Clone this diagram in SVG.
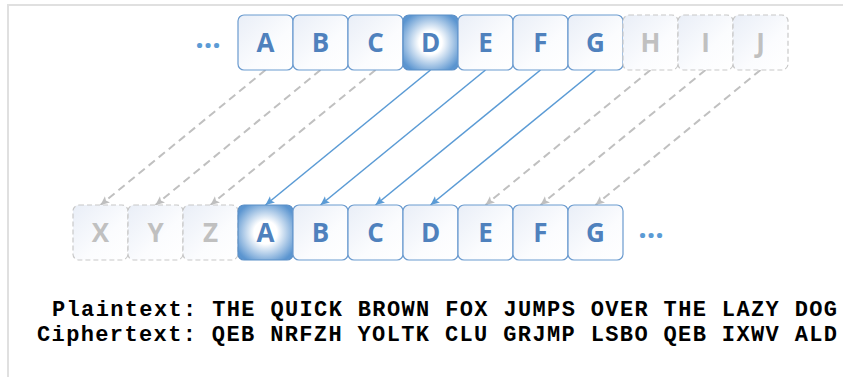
<svg xmlns="http://www.w3.org/2000/svg" width="843" height="377" viewBox="0 0 843 377">
<defs>
<linearGradient id="gBox" x1="0" y1="0" x2="1" y2="1">
<stop offset="0" stop-color="#e9eef7"/>
<stop offset="0.6" stop-color="#fbfcfe"/>
<stop offset="1" stop-color="#ffffff"/>
</linearGradient>
<radialGradient id="gHi" cx="0.5" cy="0.5" r="0.6">
<stop offset="0" stop-color="#ffffff"/>
<stop offset="0.35" stop-color="#ffffff"/>
<stop offset="1" stop-color="#5b95d0"/>
</radialGradient>
<marker id="ab" markerUnits="userSpaceOnUse" markerWidth="10" markerHeight="10" refX="9" refY="4" orient="auto">
<path d="M0,0 L9,4 L0,8 L2,4 z" fill="#5b9bd5"/>
</marker>
<marker id="ag" markerUnits="userSpaceOnUse" markerWidth="10" markerHeight="10" refX="9" refY="4" orient="auto">
<path d="M0,0 L9,4 L0,8 L2,4 z" fill="#bfbfbf"/>
</marker>
</defs>
<style>
.box{fill:url(#gBox);stroke:#6b9bcf;stroke-width:1.2}
.hi{fill:url(#gHi);stroke:#5b8fc7;stroke-width:1.2}
.dim{fill:url(#gBox);stroke:#c8c8c8;stroke-width:1.2;stroke-dasharray:5 3}
.t{font-family:"Open Sans","Liberation Sans",sans-serif;font-weight:bold;font-size:26px;text-anchor:middle;fill:#4f81bd}
.td{font-family:"Open Sans","Liberation Sans",sans-serif;font-weight:bold;font-size:26px;text-anchor:middle;fill:#c0c0c0}
.el{font-family:"Open Sans","Liberation Sans",sans-serif;font-weight:bold;font-size:30px;text-anchor:middle;fill:#5b9bd5}
.sb{stroke:#5b9bd5;stroke-width:1.6;fill:none;marker-end:url(#ab)}
.sg{stroke:#c0c0c0;stroke-width:2;fill:none;stroke-dasharray:8 5;marker-end:url(#ag)}
.mono{font-family:"Liberation Mono","Courier New",monospace;font-weight:bold;font-size:22px;fill:#000}
.frame{stroke:#e0e0e0;stroke-width:2;fill:none}
</style>
<path class="frame" d="M8,377 L8,5 L843,5"/>
<g id="connectors">
<line class="sg" x1="265.5" y1="70" x2="100.5" y2="205"/>
<line class="sg" x1="320.5" y1="70" x2="155.5" y2="205"/>
<line class="sg" x1="375.5" y1="70" x2="210.5" y2="205"/>
<line class="sb" x1="430.5" y1="70" x2="265.5" y2="205"/>
<line class="sb" x1="485.5" y1="70" x2="320.5" y2="205"/>
<line class="sb" x1="540.5" y1="70" x2="375.5" y2="205"/>
<line class="sb" x1="595.5" y1="70" x2="430.5" y2="205"/>
<line class="sg" x1="650.5" y1="70" x2="485.5" y2="205"/>
<line class="sg" x1="705.5" y1="70" x2="540.5" y2="205"/>
<line class="sg" x1="760.5" y1="70" x2="595.5" y2="205"/>
</g>
<g id="top-ellipsis"><text class="el" x="208" y="48">...</text></g>
<g id="top-A"><rect class="box" x="238" y="15" width="55" height="55" rx="6"/><text class="t" x="265.5" y="52">A</text></g>
<g id="top-B"><rect class="box" x="293" y="15" width="55" height="55" rx="6"/><text class="t" x="320.5" y="52">B</text></g>
<g id="top-C"><rect class="box" x="348" y="15" width="55" height="55" rx="6"/><text class="t" x="375.5" y="52">C</text></g>
<g id="top-D"><rect class="hi" x="403" y="15" width="55" height="55" rx="6"/><text class="t" x="430.5" y="52">D</text></g>
<g id="top-E"><rect class="box" x="458" y="15" width="55" height="55" rx="6"/><text class="t" x="485.5" y="52">E</text></g>
<g id="top-F"><rect class="box" x="513" y="15" width="55" height="55" rx="6"/><text class="t" x="540.5" y="52">F</text></g>
<g id="top-G"><rect class="box" x="568" y="15" width="55" height="55" rx="6"/><text class="t" x="595.5" y="52">G</text></g>
<g id="top-H"><rect class="dim" x="623" y="15" width="55" height="55" rx="6"/><text class="td" x="650.5" y="52">H</text></g>
<g id="top-I"><rect class="dim" x="678" y="15" width="55" height="55" rx="6"/><text class="td" x="705.5" y="52">I</text></g>
<g id="top-J"><rect class="dim" x="733" y="15" width="55" height="55" rx="6"/><text class="td" x="760.5" y="52">J</text></g>
<g id="bot-X"><rect class="dim" x="73" y="205" width="55" height="55" rx="6"/><text class="td" x="100.5" y="242">X</text></g>
<g id="bot-Y"><rect class="dim" x="128" y="205" width="55" height="55" rx="6"/><text class="td" x="155.5" y="242">Y</text></g>
<g id="bot-Z"><rect class="dim" x="183" y="205" width="55" height="55" rx="6"/><text class="td" x="210.5" y="242">Z</text></g>
<g id="bot-A"><rect class="hi" x="238" y="205" width="55" height="55" rx="6"/><text class="t" x="265.5" y="242">A</text></g>
<g id="bot-B"><rect class="box" x="293" y="205" width="55" height="55" rx="6"/><text class="t" x="320.5" y="242">B</text></g>
<g id="bot-C"><rect class="box" x="348" y="205" width="55" height="55" rx="6"/><text class="t" x="375.5" y="242">C</text></g>
<g id="bot-D"><rect class="box" x="403" y="205" width="55" height="55" rx="6"/><text class="t" x="430.5" y="242">D</text></g>
<g id="bot-E"><rect class="box" x="458" y="205" width="55" height="55" rx="6"/><text class="t" x="485.5" y="242">E</text></g>
<g id="bot-F"><rect class="box" x="513" y="205" width="55" height="55" rx="6"/><text class="t" x="540.5" y="242">F</text></g>
<g id="bot-G"><rect class="box" x="568" y="205" width="55" height="55" rx="6"/><text class="t" x="595.5" y="242">G</text></g>
<g id="bot-ellipsis"><text class="el" x="651" y="238">...</text></g>
<g id="text">
<text class="mono" x="52" y="316" textLength="785" lengthAdjust="spacing">Plaintext: THE QUICK BROWN FOX JUMPS OVER THE LAZY DOG</text>
<text class="mono" x="37" y="341" textLength="800" lengthAdjust="spacing">Ciphertext: QEB NRFZH YOLTK CLU GRJMP LSBO QEB IXWV ALD</text>
</g>
</svg>
